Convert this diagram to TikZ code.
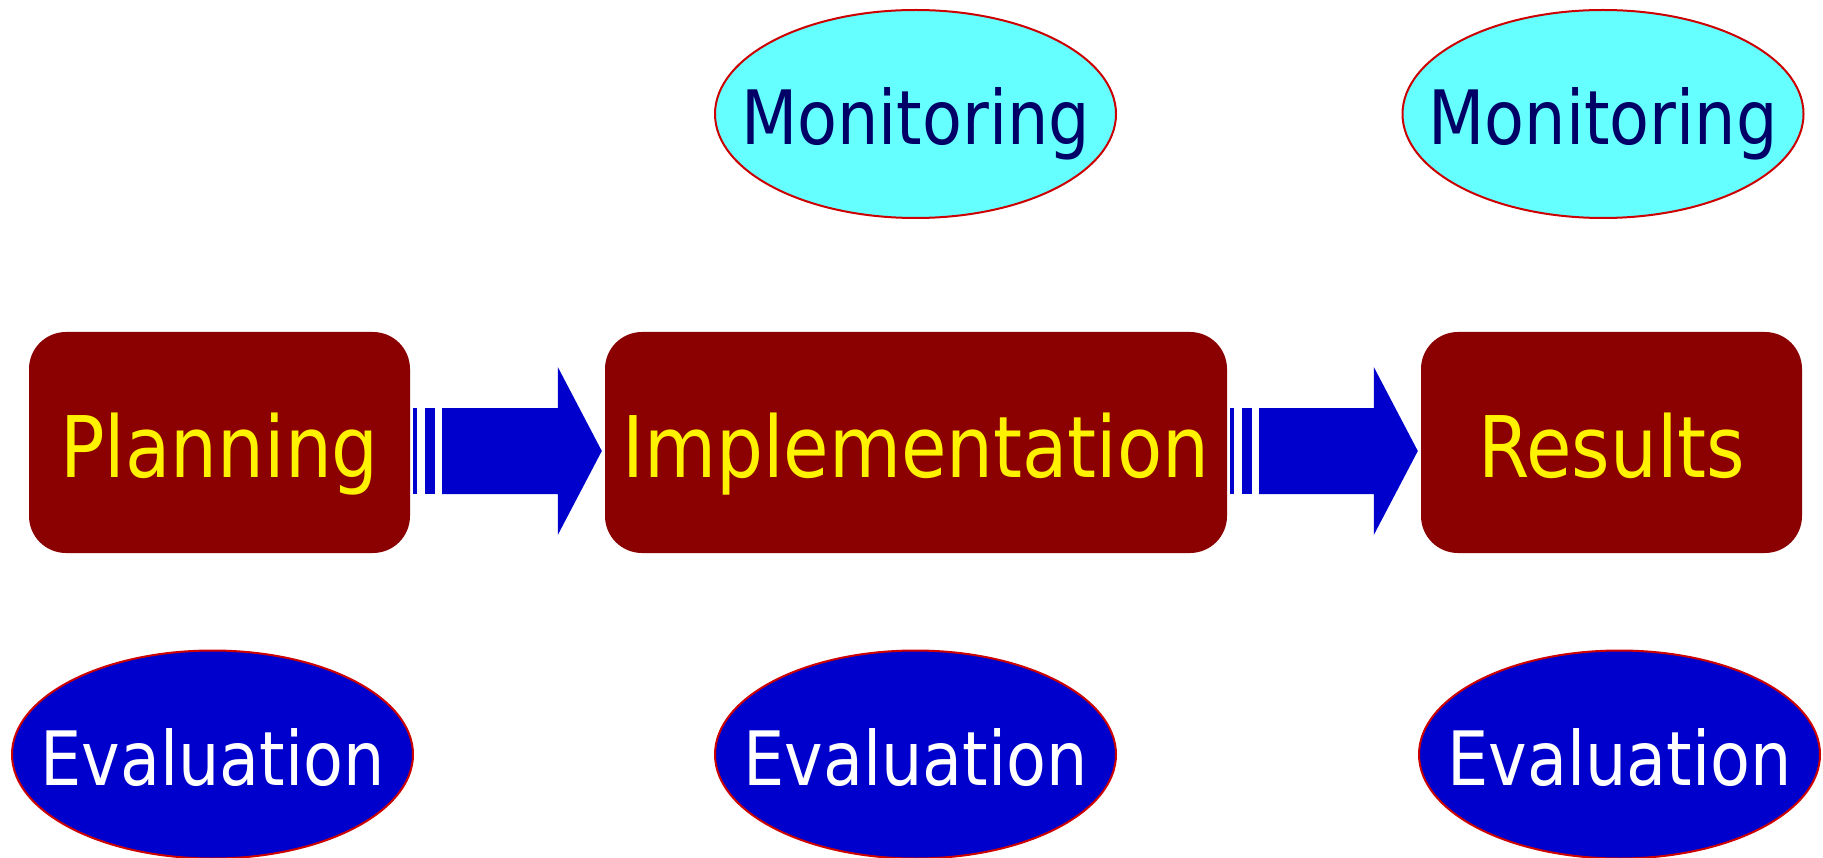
\documentclass[tikz,border=0pt]{standalone}
\usepackage{fontspec}
\setmainfont[FakeStretch=0.87]{DejaVu Sans}
\usetikzlibrary{shapes.geometric, calc}
\definecolor{boxred}{HTML}{8B0000}
\definecolor{arrowblue}{HTML}{0000CC}
\definecolor{moncyan}{HTML}{66FFFF}
\definecolor{monnavy}{HTML}{000066}
\definecolor{rimred}{HTML}{CC0000}
\tikzset{
	stage/.style={rectangle, rounded corners=37pt, fill=boxred, text=yellow, minimum height=221pt, inner sep=0pt, font=\fontsize{85}{90}\selectfont, text height=69pt, text depth=0pt},
	bubble/.style={ellipse, draw=rimred, line width=2pt, minimum width=401pt, minimum height=208pt, inner sep=0pt},
	montext/.style={text=monnavy, font=\fontsize{75}{80}\selectfont, text height=62pt, text depth=0pt, inner sep=0pt},
	evaltext/.style={text=white, font=\fontsize{75}{80}\selectfont, text height=61pt, text depth=0pt, inner sep=0pt}
}
\newcommand{\stripearrow}[2]{%
	\path (#1.east) ++(3, 8.5) coordinate (s) (#2.west) ++(-3, 8.5) coordinate (t);
	\fill[arrowblue]($(s)+(0, -43)$) rectangle ($(s)+(4, 43)$);
	\fill[arrowblue]($(s)+(12, -43)$) rectangle ($(s)+(22, 43)$);
	\fill[arrowblue]($(s)+(29, -43)$)--($(t)+(-44, -43)$)--($(t)+(-44, -84)$)--(t)--($(t)+(-44, 84)$)--($(t)+(-44, 43)$)--($(s)+(29, 43)$)--cycle;
}
\begin{document}
\begin{tikzpicture}[x=1pt, y=-1pt]
	\useasboundingbox(0, 0) rectangle (1823, 858);
	\node[stage, minimum width=381pt](plan)at(219.5, 442.5){Planning};
	\node[stage, minimum width=622pt](impl)at(916, 442.5){Implementation};
	\node[stage, minimum width=381pt](res)at(1611.5, 442.5){Results};
	\node[bubble, fill=moncyan, label={[montext]center:Monitoring}](mon1)at(915.5, 114){};
	\node[bubble, fill=moncyan, label={[montext]center:Monitoring}](mon2)at(1603, 114){};
	\node[bubble, fill=arrowblue, label={[evaltext]center:Evaluation}](eval1)at(212.5, 754.5){};
	\node[bubble, fill=arrowblue, label={[evaltext]center:Evaluation}](eval2)at(915.5, 754.5){};
	\node[bubble, fill=arrowblue, label={[evaltext]center:Evaluation}](eval3)at(1619.5, 754.5){};
	\stripearrow{plan}{impl}
	\stripearrow{impl}{res}
\end{tikzpicture}
\end{document}
